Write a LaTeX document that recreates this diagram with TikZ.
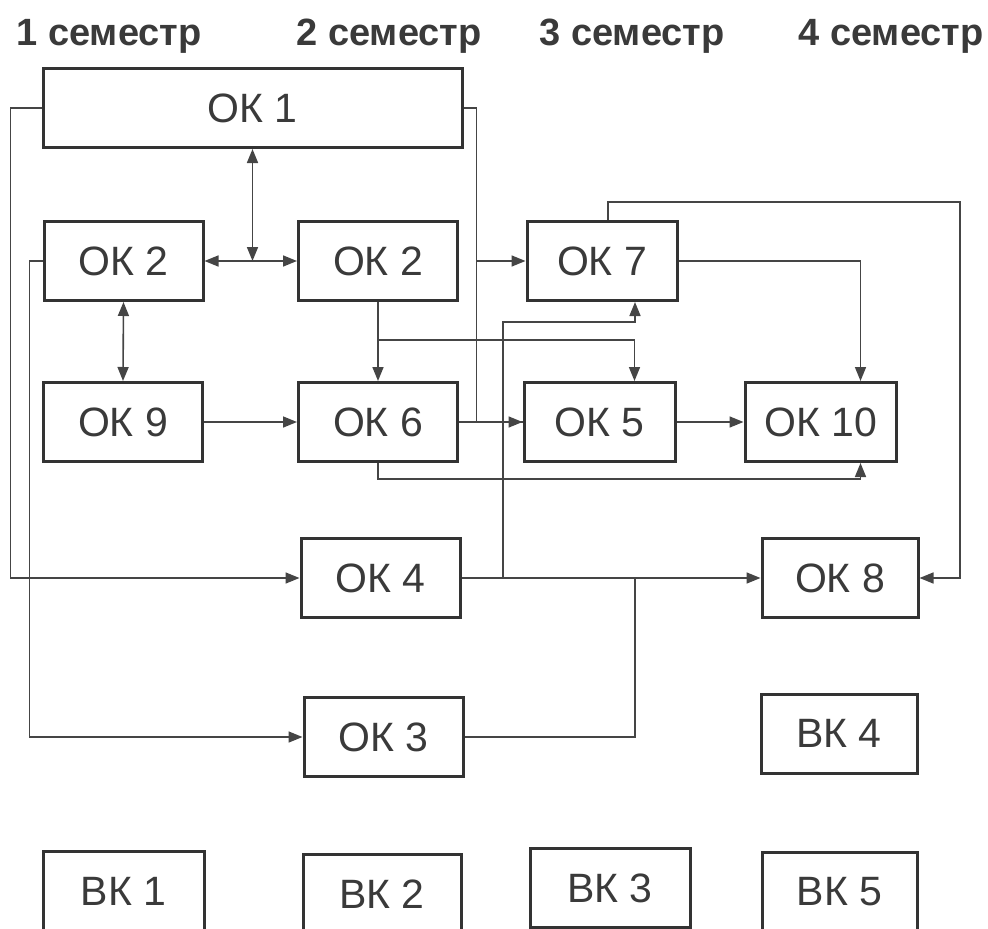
\documentclass[tikz,border=0pt]{standalone}
\usepackage{fontspec}
\setmainfont{Liberation Sans}
\usetikzlibrary{arrows.meta, positioning, calc}
\definecolor{boxCol}{HTML}{333333}
\definecolor{lineCol}{HTML}{454545}
\definecolor{textdark}{HTML}{3a3a3a}

\begin{document}
\begin{tikzpicture}[
    x=1pt, y=-1pt,
    >={Triangle[length=14pt, width=11pt]},
    box/.style={draw=boxCol, line width=3pt, minimum width=159pt, minimum height=79pt,
        inner sep=0pt, text=textdark, font=\fontsize{41}{48}\selectfont},
    conn/.style={draw=lineCol, line width=1.6pt},
    semnode/.style={anchor=base west, text=textdark, font=\bfseries\fontsize{38}{44}\selectfont}
]
\clip (0,0) rectangle (988,929);

% --- 1. SEMESTER HEADERS ---
\node[semnode] (S1) at (13, 45) {1 семестр};
\node[semnode] (S2) at (293, 45) {2 семестр};
\node[semnode] (S3) at (536, 45) {3 семестр};
\node[semnode] (S4) at (795, 45) {4 семестр};

% --- 2. COMPULSORY COURSES ---
\node[box, minimum width=419pt] (OK1) at (252.5, 108) {ОК 1};
\node[box] (OK2L) at (123.5, 261) {ОК 2};
\node[box] (OK2R) at (378, 261) {ОК 2};
\node[box, minimum width=150pt] (OK7) at (602, 261) {ОК 7};
\node[box] (OK9) at (123, 422) {ОК 9};
\node[box] (OK6) at (378, 422) {ОК 6};
\node[box, minimum width=151pt] (OK5) at (599.5, 422) {ОК 5};
\node[box, minimum width=151pt] (OK10) at (820.5, 422) {ОК 10};
\node[box] (OK4) at (380.5, 578) {ОК 4};
\node[box, minimum width=156pt] (OK8) at (840, 578) {ОК 8};
\node[box] (OK3) at (383.5, 737) {ОК 3};

% --- 3. ELECTIVE COURSES ---
\node[box, minimum width=156pt] (BK4) at (839, 733.5) {ВК 4};
\node[box, minimum width=161pt] (BK1) at (123.5, 891) {ВК 1};
\node[box, minimum width=158pt] (BK2) at (382, 894) {ВК 2};
\node[box, minimum width=160pt] (BK3) at (610, 888) {ВК 3};
\node[box, minimum width=155pt] (BK5) at (839.5, 892) {ВК 5};

% --- 4. JUNCTIONS ---
\coordinate (j12) at (OK1.south |- OK2L.east);
\coordinate (jR1) at (476.5, 108);
\coordinate (j26) at (378, 340);
\coordinate (jA) at (503, 578);
\coordinate (jB) at (635, 578);

% --- 5. CONNECTORS ---
\draw[conn, <->] (OK1.south) -- (j12);
\draw[conn, <->] (OK2L.east) -- (OK2R.west);
\draw[conn, <->] (OK2L.south) -- (OK9.north);
\draw[conn, ->] (OK9.east) -- (OK6.west);
\draw[conn, ->] (OK2R.south) -- (OK6.north);
\draw[conn, ->] (j26) -| ([xshift=35pt]OK5.north);
\draw[conn, ->] (OK6.east) -- (OK5.west);
\draw[conn, ->] (OK5.east) -- (OK10.west);
\draw[conn, ->] (OK6.south) -- ++(0,16) -| ([xshift=40pt]OK10.south);
\draw[conn, ->] (OK7.east) -| ([xshift=40pt]OK10.north);

% OK 1 to the right column
\draw[conn] (OK1.east) -- (jR1) |- (OK5.west);
\draw[conn, ->] (jR1 |- OK7.west) -- (OK7.west);

% OK 1 and OK 2 down the left side
\draw[conn, ->] (OK1.west) -- ++(-31,0) |- (OK4.west);
\draw[conn, ->] (OK2L.west) -- ++(-13,0) |- (OK3.west);

% into OK 8
\draw[conn, ->] (OK4.east) -- (OK8.west);
\draw[conn] (OK3.east) -| (jB);
\draw[conn, ->] (jA) |- (635, 322) -- ([xshift=33pt]OK7.south);
\draw[conn, ->] ([xshift=6pt]OK7.north) |- (960, 202) |- (OK8.east);

\end{tikzpicture}
\end{document}
